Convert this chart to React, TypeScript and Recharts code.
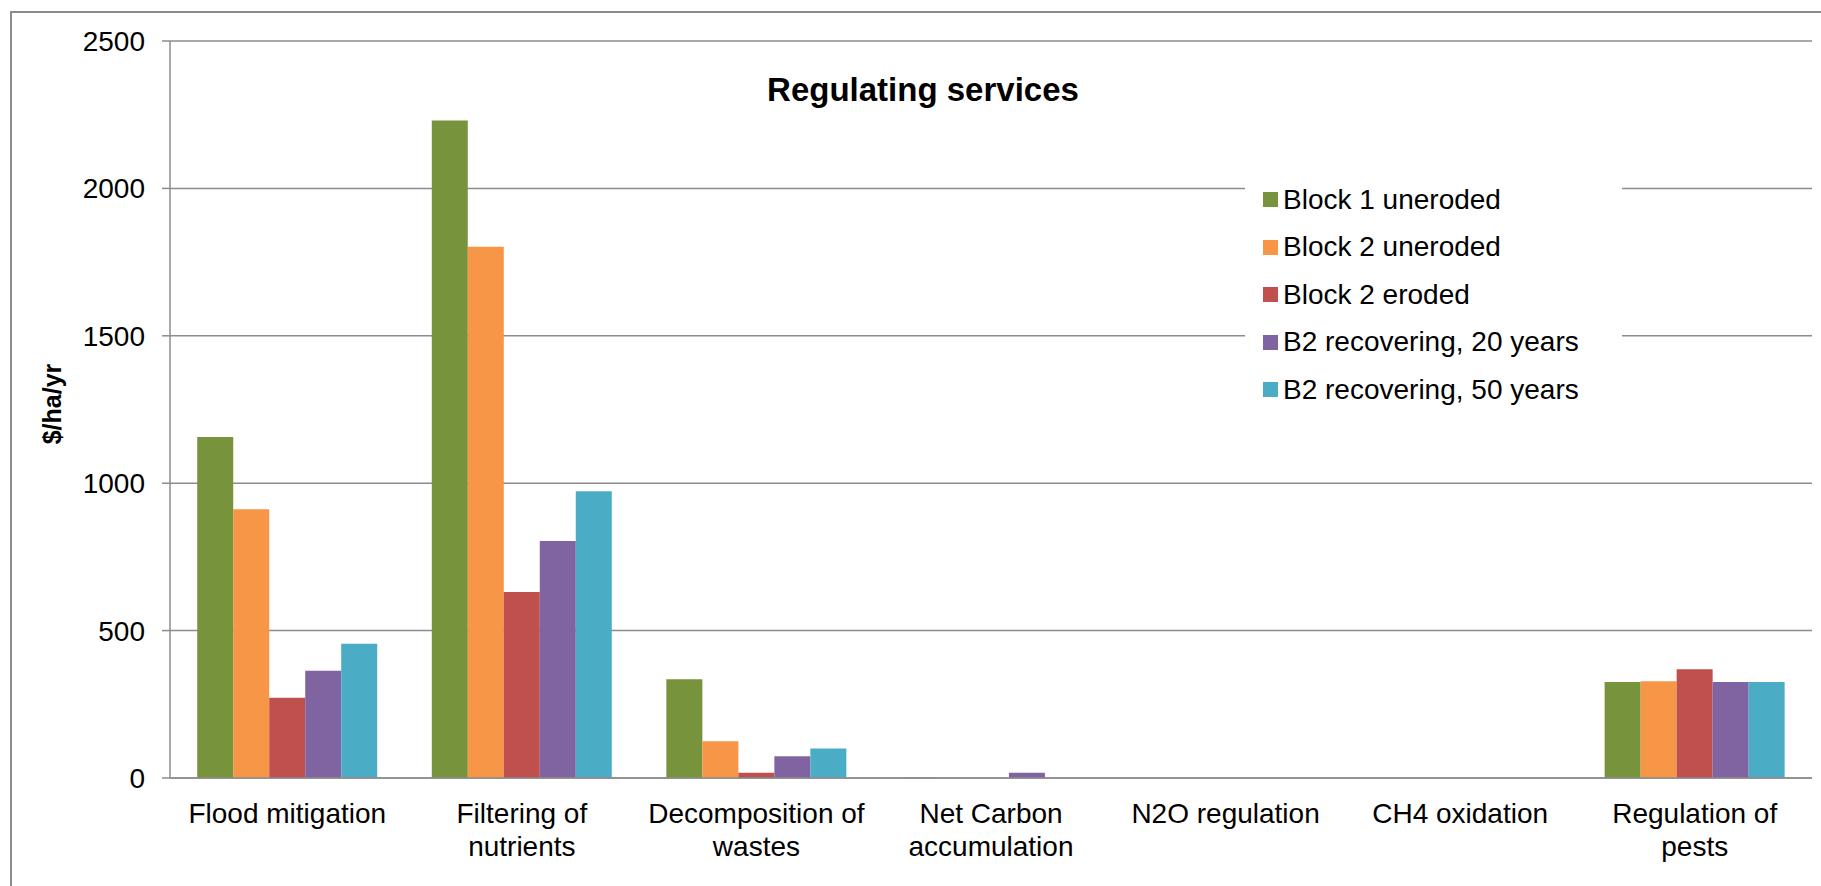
import { BarChart, Bar, XAxis, YAxis, CartesianGrid, Legend } from "recharts";

const categories = [
  "Flood mitigation",
  "Filtering of\nnutrients",
  "Decomposition of\nwastes",
  "Net Carbon\naccumulation",
  "N2O regulation",
  "CH4 oxidation",
  "Regulation of\npests",
];

const block1Uneroded = [1157, 2230, 335, 2, 0, 0, 326];
const block2Uneroded = [912, 1802, 125, 0, 0, 0, 328];
const block2Eroded = [272, 631, 18, 0, 0, 0, 369];
const b2Recovering20 = [364, 804, 74, 18, 0, 0, 326];
const b2Recovering50 = [455, 973, 100, 0, 0, 0, 326];

const yTicks = [0, 500, 1000, 1500, 2000, 2500];
const edgeTicks = [0, 1, 2, 3, 4, 5, 6, 7];

const series = [
  { key: "b1", name: "Block 1 uneroded", color: "#77933C", values: block1Uneroded },
  { key: "b2", name: "Block 2 uneroded", color: "#F79646", values: block2Uneroded },
  { key: "b2e", name: "Block 2 eroded", color: "#C0504D", values: block2Eroded },
  { key: "r20", name: "B2 recovering, 20 years", color: "#8064A2", values: b2Recovering20 },
  { key: "r50", name: "B2 recovering, 50 years", color: "#4BACC6", values: b2Recovering50 },
];

const data = categories.map((name, i) => {
  const row: Record<string, string | number> = { name };
  series.forEach((s) => (row[s.key] = s.values[i]));
  return row;
});

const FONT = "'Liberation Sans', Arial, sans-serif";
const GREY = "#8c8c8c";

function CategoryTick({ x, y, payload }: any) {
  const lines = String(payload.value).split("\n");
  return (
    <text x={x} y={y} textAnchor="middle" fontSize={28} fontFamily={FONT} fill="#000">
      {lines.map((line, i) => (
        <tspan key={i} x={x} dy={i === 0 ? "0.71em" : 33}>
          {line}
        </tspan>
      ))}
    </text>
  );
}

// legend keeps the series order rather than the payload's sorted order
function LegendBox() {
  return (
    <div style={{ background: "#fff", paddingLeft: 18, fontFamily: FONT, fontSize: 28 }}>
      {series.map((s) => (
        <div key={s.key} style={{ height: 47.5, display: "flex", alignItems: "center" }}>
          <span style={{ width: 15, height: 15, background: s.color, marginRight: 5, display: "inline-block" }} />
          <span style={{ color: "#000" }}>{s.name}</span>
        </div>
      ))}
    </div>
  );
}

export default function App() {
  return (
    <div style={{ position: "absolute", left: 0, top: 0, width: 1821, height: 886, background: "#fff", overflow: "hidden", fontFamily: FONT }}>
      <div style={{ position: "absolute", left: 10, top: 11, width: 1900, height: 1000, borderLeft: `2px solid ${GREY}`, borderTop: `2px solid ${GREY}` }} />
      <BarChart
        width={1821}
        height={886}
        data={data}
        margin={{ top: 41, right: 9, bottom: 106, left: 10 }}
        barGap={0}
        barCategoryGap="11.6%"
      >
        <CartesianGrid vertical={false} stroke={GREY} strokeWidth={1.5} />
        <XAxis
          dataKey="name"
          height={1}
          interval={0}
          tickLine={false}
          tickSize={0}
          tickMargin={25}
          axisLine={{ stroke: GREY, strokeWidth: 1.5 }}
          tick={<CategoryTick />}
        />
        <XAxis
          xAxisId="edges"
          type="number"
          domain={[0, 7]}
          ticks={edgeTicks}
          height={1}
          tick={false}
          tickSize={8}
          tickLine={{ stroke: GREY, strokeWidth: 1.5 }}
          axisLine={false}
        />
        <YAxis
          width={160}
          domain={[0, 2500]}
          ticks={yTicks}
          tickSize={8}
          tickMargin={17}
          tickLine={{ stroke: GREY, strokeWidth: 1.5 }}
          axisLine={{ stroke: GREY, strokeWidth: 1.5 }}
          tick={{ fontSize: 28, fill: "#000", fontFamily: FONT }}
        />
        <Legend
          layout="vertical"
          align="center"
          verticalAlign="middle"
          content={<LegendBox />}
          wrapperStyle={{ left: 1245, top: 176, width: 377, height: "auto" }}
        />
        {series.map((s) => (
          <Bar key={s.key} dataKey={s.key} name={s.name} fill={s.color} isAnimationActive={false} />
        ))}
      </BarChart>
      <div style={{ position: "absolute", left: 923, top: 90, transform: "translate(-50%, -50%)", fontSize: 33, fontWeight: "bold", whiteSpace: "nowrap" }}>
        Regulating services
      </div>
      <div style={{ position: "absolute", left: 52, top: 404, transform: "translate(-50%, -50%) rotate(-90deg)", fontSize: 25, fontWeight: "bold", whiteSpace: "nowrap" }}>
        $/ha/yr
      </div>
    </div>
  );
}
